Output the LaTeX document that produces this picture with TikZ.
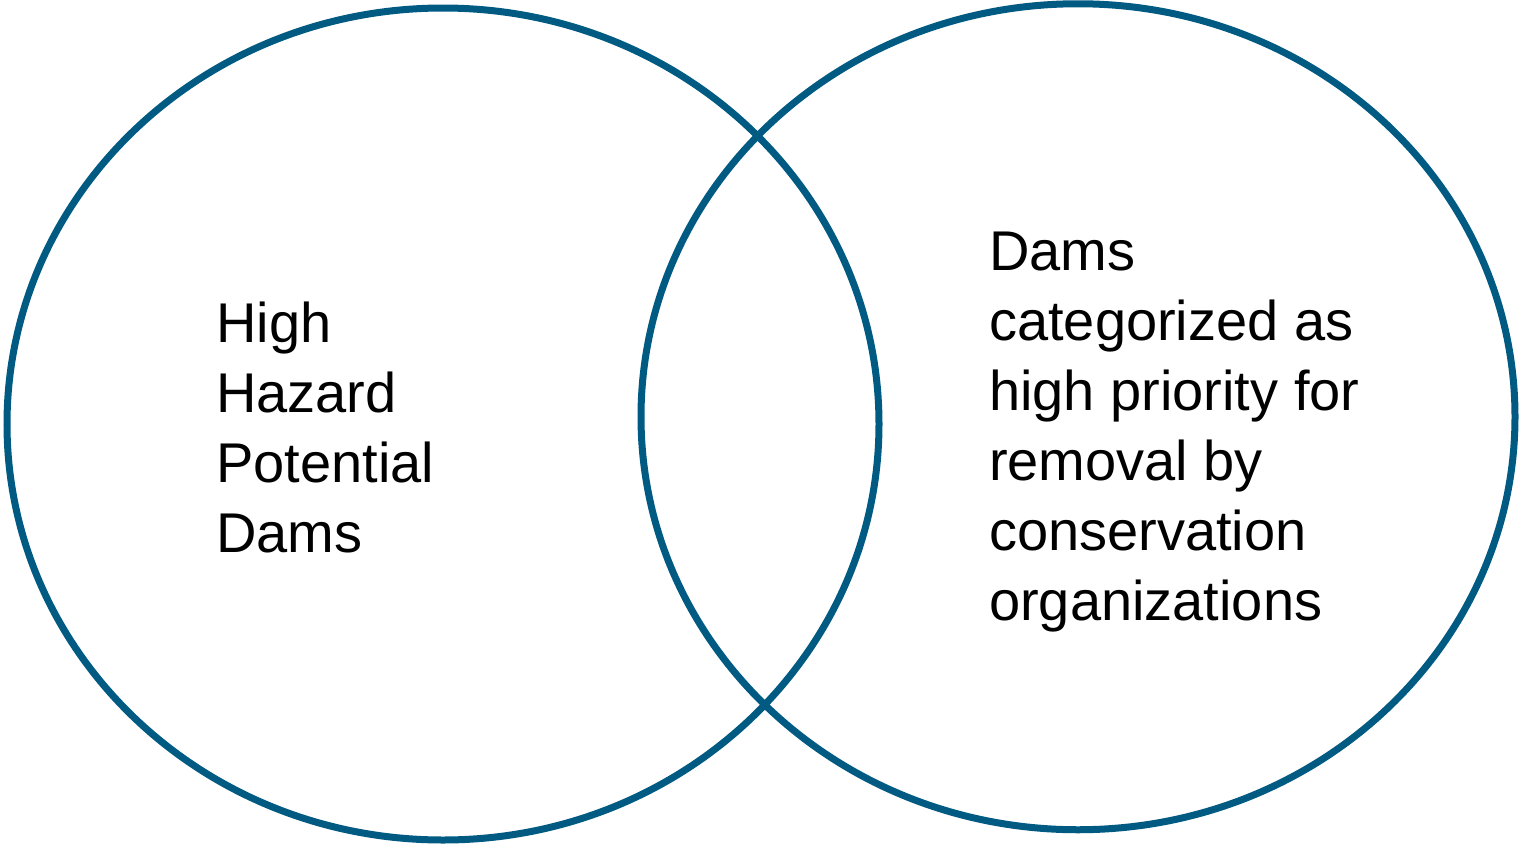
\documentclass[tikz,border=0pt]{standalone}
\usepackage{fontspec}
\setmainfont{Liberation Sans}
\usetikzlibrary{shapes.geometric}
\definecolor{damblue}{HTML}{005A82}

\begin{document}
\begin{tikzpicture}[x=1pt,y=-1pt]
   \tikzset{venn/.style 2 args={draw=damblue, line width=7pt, ellipse, inner sep=0pt, minimum width=#1pt, minimum height=#2pt}};
   \tikzset{venntext/.style={anchor=base west, align=left, inner sep=0pt, font=\fontsize{56}{70}\selectfont}};
   \useasboundingbox (0,0) rectangle (1521,844);

\node[venn={872}{832}] (hazard) at (443,424) {};
\node[venn={874}{826}] (priority) at (1078,416.75) {};

% base anchor sits on the last line
\node[venntext] (hazardtext) at (216,552) {High\\Hazard\\Potential\\Dams};
\node[venntext] (prioritytext) at (989,620) {Dams\\categorized as\\high priority for\\removal by\\conservation\\organizations};

\end{tikzpicture}
\end{document}
